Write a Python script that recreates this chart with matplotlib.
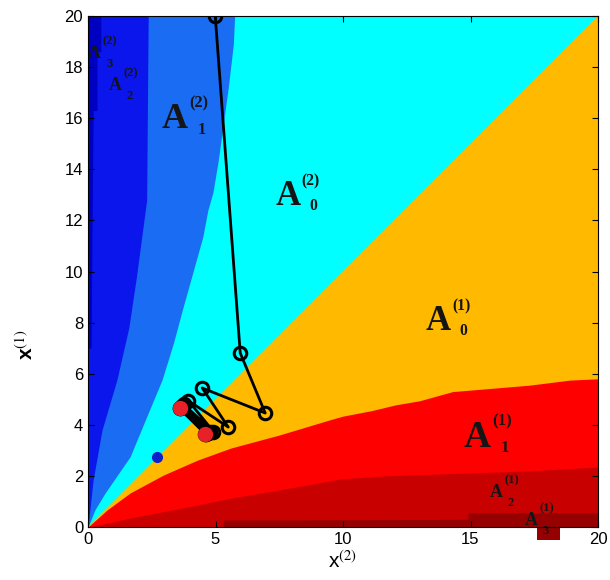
import matplotlib
matplotlib.use('Agg')
import matplotlib.pyplot as plt
from matplotlib.patches import Rectangle

plt.rcParams['mathtext.fontset'] = 'stix'
plt.rcParams['font.family'] = ['Liberation Sans', 'DejaVu Sans']

# region boundaries
# red side: height y as a function of x
red1_x = [0, 0.75, 1.65, 2.95, 4.3, 5.6, 7.5, 9.5, 10.0, 11.1, 12.06, 13.0, 14.3, 17.3, 18.9, 20]
red1_y = [0, 0.67, 1.33, 2.03, 2.62, 3.09, 3.6, 4.2, 4.34, 4.55, 4.78, 4.94, 5.3, 5.55, 5.75, 5.8]
red2_x = [0, 0.75, 1.65, 2.95, 4.3, 5.6, 7.5, 9.9, 11.6, 17.4, 20]
red2_y = [0, 0.15, 0.35, 0.6, 0.86, 1.13, 1.45, 1.88, 2.0, 2.2, 2.35]
red3_x = [0, 5.3, 5.3, 14.9, 14.9, 20]
red3_y = [0, 0, 0.27, 0.3, 0.55, 0.55]

# blue side: width x as a function of y
blue1_y = [0, 0.67, 1.33, 2.75, 4.46, 5.75, 7.2, 8.5, 11.35, 12.4, 13.1, 14.3, 17.2, 18.9, 20]
blue1_x = [0, 0.27, 0.67, 1.65, 2.36, 2.9, 3.35, 3.7, 4.5, 4.7, 4.9, 5.1, 5.5, 5.7, 5.75]
blue2_y = [0, 1.84, 3.8, 5.75, 7.8, 9.8, 12.8, 20]
blue2_x = [0, 0.2, 0.55, 1.13, 1.6, 1.9, 2.3, 2.36]
blue3_y = [7, 11, 16.3, 16.3, 18.6, 18.6, 20]
blue3_x = [0.12, 0.15, 0.2, 0.35, 0.35, 0.5, 0.5]

# trajectory
traj_x = [4.99, 5.97, 6.95, 4.48, 5.5, 3.94, 4.92, 3.75, 4.8, 3.68, 4.7, 3.62, 4.64, 3.59, 4.6]
traj_y = [20.0, 6.81, 4.46, 5.44, 3.91, 4.94, 3.73, 4.8, 3.7, 4.72, 3.67, 4.67, 3.65, 4.64, 3.64]
limit_x = [3.59, 4.6]
limit_y = [4.64, 3.64]
start_x = [2.7]
start_y = [2.75]

# region labels: subscript, superscript, x, y, size of the A, small style?
lab_sub = ['0', '0', '1', '2', '3', '1', '3', '2']
lab_sup = ['(2)', '(1)', '(1)', '(1)', '(1)', '(2)', '(2)', '(2)']
lab_x = [7.35, 13.24, 14.73, 15.76, 17.13, 2.9, 0.0, 0.82]
lab_y = [12.6, 7.7, 3.14, 1.19, 0.08, 15.6, 18.36, 17.1]
lab_size = [25, 25, 27, 13, 13, 26, 13, 13]
lab_small = [False, False, False, True, True, False, True, True]

fig = plt.figure(figsize=(6.1, 5.8), dpi=100)
ax = fig.add_axes([88 / 610, 53 / 580, 510 / 610, 511 / 580])
ax.set_facecolor('#FFBA00')

ax.fill([0, 20, 0], [0, 20, 20], color='#00FFFF', lw=0)
ax.fill_betweenx(blue1_y, 0, blue1_x, color='#1A6CF2', lw=0)
ax.fill_betweenx(blue2_y, 0, blue2_x, color='#0A16EC', lw=0)
ax.fill_betweenx(blue3_y, 0, blue3_x, color='#0000C0', lw=0)
ax.fill_between(red1_x, 0, red1_y, color='#FF0000', lw=0)
ax.fill_between(red2_x, 0, red2_y, color='#C80000', lw=0)
ax.fill_between(red3_x, 0, red3_y, color='#960000', lw=0)
ax.add_patch(Rectangle((17.6, -0.5), 0.9, 0.5, color='#960000', lw=0, clip_on=False, zorder=1))

ax.plot(traj_x, traj_y, '-o', color='black', lw=2, ms=9, mfc='none', mew=2.2)
ax.plot(limit_x, limit_y, 'o', color='#E82028', ms=10, mec='#E82028')
ax.plot(start_x, start_y, 'o', color='#1020C8', ms=7, mec='#1020C8')

serif = dict(family='Liberation Serif', fontweight='bold', color='#151515',
             ha='left', va='baseline', annotation_clip=False)
for sub, sup, x, y, s, small in zip(lab_sub, lab_sup, lab_x, lab_y, lab_size, lab_small):
    ax.annotate('A', (x, y), fontsize=s, **serif)
    if small:
        sup_s, sup_off, sub_off = 0.7 * s, (0.8 * s, 0.75 * s), (1.0 * s, -0.5 * s)
    else:
        sup_s, sup_off, sub_off = 0.45 * s, (0.76 * s, 0.58 * s), (0.98 * s, -0.15 * s)
    ax.annotate(sup, (x, y), xytext=sup_off, textcoords='offset points',
                fontsize=sup_s, **serif)
    ax.annotate(sub, (x, y), xytext=sub_off, textcoords='offset points',
                fontsize=sup_s, **serif)

ax.set_xlim(0, 20)
ax.set_ylim(0, 20)
ax.set_xticks(range(0, 21, 5))
ax.set_yticks(range(0, 21, 2))
ax.tick_params(direction='in', top=True, right=True, length=4, labelsize=12)

ax.set_xlabel('x$^{(2)}$', fontsize=15)
ax.xaxis.set_label_coords(0.5, -0.045)
ax.set_ylabel('x$^{(1)}$', fontsize=15, fontweight='bold')
ax.yaxis.set_label_coords(-0.1, 0.356)

fig.savefig('out.png', dpi=100)
